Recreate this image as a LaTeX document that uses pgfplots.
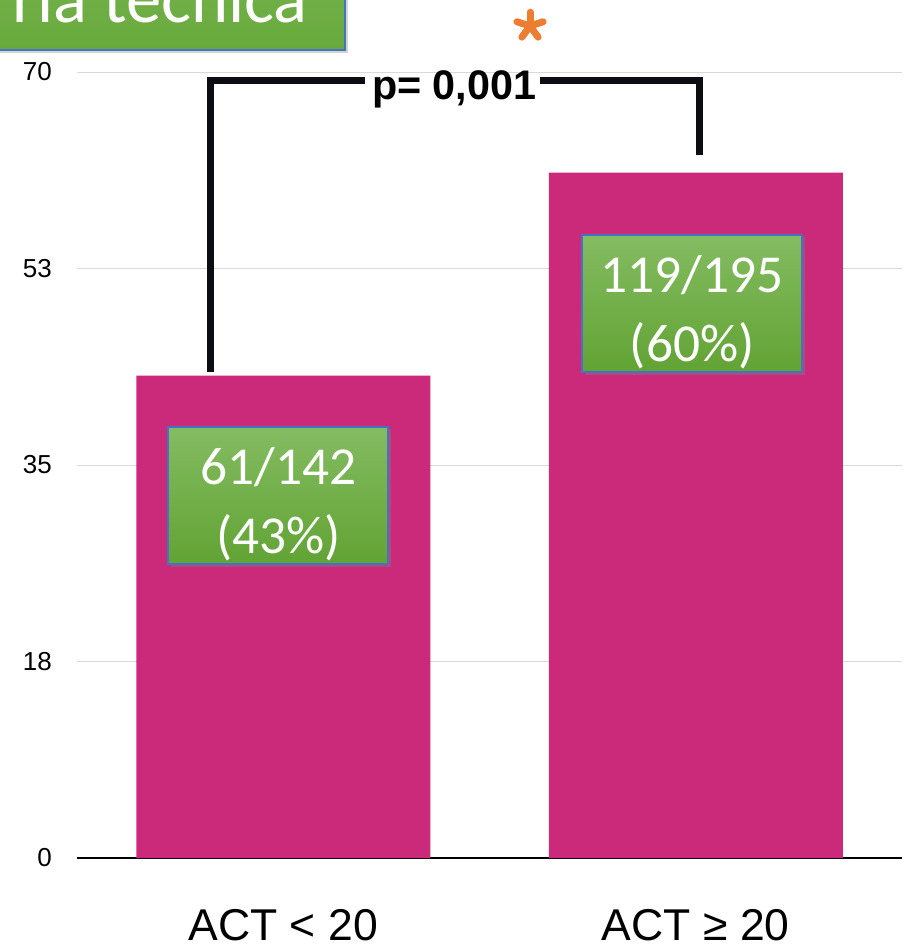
\documentclass[border=0pt]{standalone}
\usepackage{fontspec}
\setmainfont{Liberation Sans}
\newfontfamily\carlito{Carlito}
\usepackage{pgfplots}
\pgfplotsset{compat=1.18}
\usetikzlibrary{shadows}
\definecolor{barpink}{RGB}{203,42,122}
\definecolor{boxtop}{RGB}{132,188,98}
\definecolor{boxbot}{RGB}{98,163,52}
\definecolor{titletop}{RGB}{118,178,78}
\definecolor{titlebot}{RGB}{104,170,60}
\definecolor{boxedge}{RGB}{68,114,196}
\definecolor{brk}{RGB}{11,13,18}
\definecolor{starc}{RGB}{237,125,49}
\definecolor{gridc}{RGB}{217,217,217}
\tikzset{boxlab/.style={minimum width=165pt, minimum height=103pt, inner sep=0pt,
    draw=boxedge, line width=1.5pt, top color=boxtop, bottom color=boxbot,
    drop shadow={opacity=0.4,shadow xshift=2pt,shadow yshift=-2pt}},
  boxtxt/.style={inner sep=0pt, align=center, text=white, yshift=-6.4pt,
    font=\carlito\fontsize{40pt}{51.5pt}\selectfont}}

\begin{document}
\begin{tikzpicture}[x=0.75pt,y=-0.75pt]
\useasboundingbox (0,0) rectangle (911,946);
\clip (0,0) rectangle (911,946);
\coordinate (AO) at (77,858);
% title box (cut off at the top)
\path[drop shadow={opacity=0.35,shadow xshift=2pt,shadow yshift=-2pt},
      top color=titletop, bottom color=titlebot, draw=boxedge, line width=1.5pt]
      (-20,-40) rectangle (345,50);
\node[anchor=base east, inner sep=0pt, text=white,
      font=\carlito\fontsize{53pt}{60pt}\selectfont] at (308,22) {ría técnica};

\begin{axis}[
  at={(AO)}, anchor=south west,
  scale only axis, width=618.75pt, height=589.5pt,
  xmin=-0.5, xmax=1.5, ymin=0, ymax=70,
  ybar, bar width=220.5pt,
  xtick={0,1}, xticklabels={ACT < 20, ACT ≥ 20},
  ytick={0,17.5,35,52.5,70}, yticklabels={0,18,35,53,70},
  /pgf/number format/assume math mode=true,
  major tick length=0pt,
  ymajorgrids, grid style={gridc, line width=0.75pt},
  axis x line*=bottom, axis y line*=left,
  x axis line style={line width=2pt, -},
  y axis line style={draw=none},
  xticklabel style={font=\fontsize{33.4pt}{40pt}\selectfont, anchor=base, inner sep=0pt, yshift=-61.5pt},
  yticklabel style={font=\fontsize{19.5pt}{23pt}\selectfont, anchor=east, inner sep=0pt, xshift=-18.75pt},
  clip=false,
]
\addplot[fill=barpink, draw=none] coordinates {(0,42.96) (1,61.03)};

\node[boxlab] at (axis cs:-0.012,32.3) {};
\node[boxtxt] at (axis cs:-0.012,32.3) {61/142\\(43\%)};
\node[boxlab] at (axis cs:0.9915,49.4) {};
\node[boxtxt] at (axis cs:0.9915,49.4) {119/195\\(60\%)};

\draw[brk, line width=5.25pt] (axis cs:-0.177,43.28) -- (axis cs:-0.177,69.28) -- (axis cs:0.199,69.28);
\draw[brk, line width=5.25pt] (axis cs:0.623,69.28) -- (axis cs:1.0085,69.28) -- (axis cs:1.0085,62.6);
\node[anchor=base, inner sep=0pt, font=\bfseries\fontsize{31pt}{36pt}\selectfont]
  at (axis cs:0.4145,67.59) {p= 0,001};
\end{axis}

% orange asterisk
\foreach \a in {90,18,162,234,306}
  \draw[starc, line width=5.25pt, line cap=round] (530,26) -- ++(-\a:13.8);
\end{tikzpicture}
\end{document}
